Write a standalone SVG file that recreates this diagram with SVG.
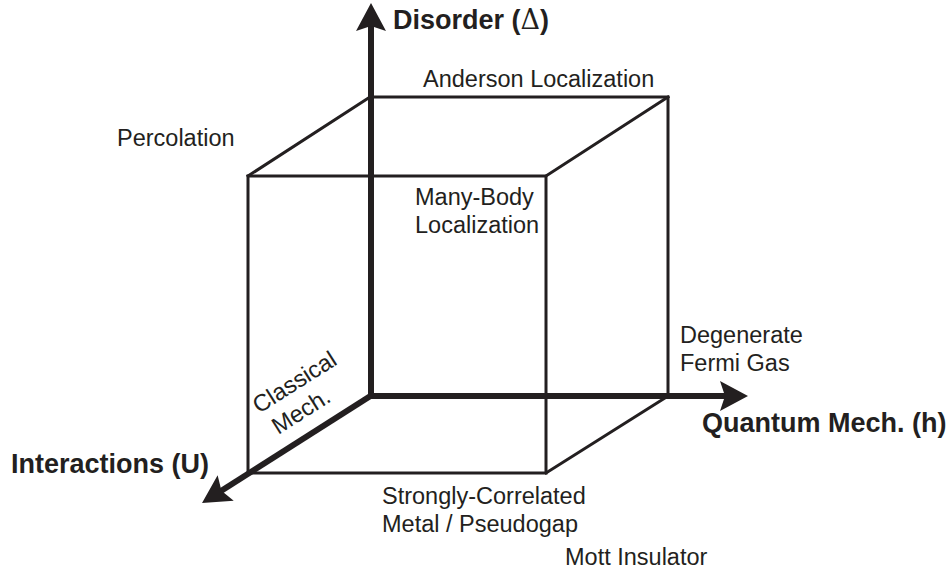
<svg xmlns="http://www.w3.org/2000/svg" width="951" height="573" viewBox="0 0 951 573">
<style>
.edge{stroke:#231f20;stroke-width:3;fill:none;stroke-linecap:square}
.axis{stroke:#231f20;stroke-width:6;fill:none}
.t{font-family:"Liberation Sans",Arial,sans-serif;font-size:23.5px;fill:#231f20}
.b{font-family:"Liberation Sans",Arial,sans-serif;font-size:27px;font-weight:bold;fill:#231f20}
</style>
<defs>
<marker id="ah" markerUnits="userSpaceOnUse" markerWidth="30" markerHeight="32" viewBox="0 0 30 32" refX="13" refY="16" orient="auto">
<path d="M0,1 L28,16 L0,31 L5,16 Z" fill="#231f20"/>
</marker>
</defs>
<g id="cube">
<path class="edge" d="M370,97 H668 V396"/>
<rect class="edge" x="248" y="176" width="298" height="297"/>
<path class="edge" d="M248,176 L370,97 M546,176 L668,97 M546,473 L668,396"/>
</g>
<g id="connectors">
<line class="axis" x1="371" y1="399" x2="371" y2="18" marker-end="url(#ah)"/>
<line class="axis" x1="368" y1="396" x2="733" y2="396" marker-end="url(#ah)"/>
<line class="axis" x1="372" y1="395" x2="214.7" y2="495" marker-end="url(#ah)"/>
</g>
<g id="axis-disorder"><text class="b" x="393" y="29">Disorder (<tspan font-weight="normal" font-family="'DejaVu Serif','Liberation Serif',serif">Δ</tspan>)</text></g>
<g id="axis-quantum"><text class="b" x="702" y="432">Quantum Mech. (h)</text></g>
<g id="axis-interactions"><text class="b" x="11" y="473">Interactions (U)</text></g>
<g id="anderson"><text class="t" x="423" y="87">Anderson Localization</text></g>
<g id="percolation"><text class="t" x="117" y="146">Percolation</text></g>
<g id="mbl"><text class="t" x="415" y="205">Many-Body</text><text class="t" x="415" y="233">Localization</text></g>
<g id="fermi"><text class="t" x="680" y="343">Degenerate</text><text class="t" x="680" y="371">Fermi Gas</text></g>
<g id="classical"><text class="t" transform="translate(259,414) rotate(-32.4)">Classical<tspan x="5" y="28">Mech.</tspan></text></g>
<g id="scm"><text class="t" x="382" y="504">Strongly-Correlated</text><text class="t" x="382" y="532">Metal / Pseudogap</text></g>
<g id="mott"><text class="t" x="565" y="565">Mott Insulator</text></g>
</svg>
